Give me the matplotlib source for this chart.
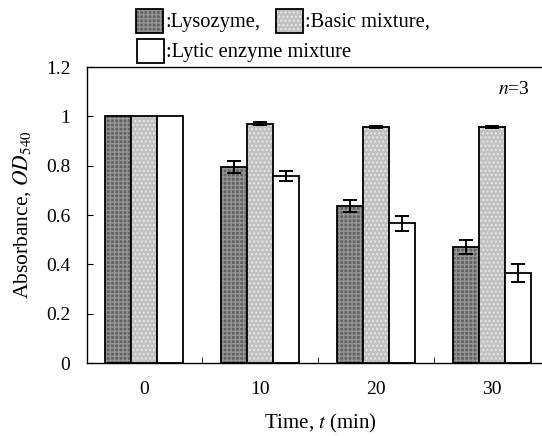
import numpy as np
import matplotlib
matplotlib.use('Agg')
import matplotlib.pyplot as plt
from matplotlib.patches import Rectangle

# データ
times = ['0', '10', '20', '30']
lysozyme = [1.0, 0.795, 0.638, 0.470]
lysozyme_err = [0.0, 0.024, 0.024, 0.027]
basic = [1.0, 0.970, 0.955, 0.955]
basic_err = [0.0, 0.006, 0.004, 0.004]
lytic = [1.0, 0.757, 0.566, 0.365]
lytic_err = [0.0, 0.020, 0.030, 0.038]

plt.rcParams['font.family'] = ['Liberation Serif', 'DejaVu Serif']
plt.rcParams['mathtext.fontset'] = 'stix'

W, H = 542, 436
fig = plt.figure(figsize=(W / 100, H / 100), dpi=100)
ax = fig.add_axes([87 / W, 73 / H, 0.86, 296 / H])

x = np.arange(len(times))
w = 0.224

series = [
    (lysozyme, lysozyme_err, -w, '#636363', '#959595', '++++'),
    (basic, basic_err, 0.0, '#c0c0c0', '#e8e8e8', '....'),
    (lytic, lytic_err, w, 'white', 'white', None),
]
for vals, err, off, fc, hc, hatch in series:
    # 塗り（テクスチャ）
    ax.bar(x + off, vals, w, color=fc, edgecolor=hc, hatch=hatch, linewidth=0)
    # 枠線
    ax.bar(x + off, vals, w, facecolor='none', edgecolor='black', linewidth=1.3)
    e = np.array(err)
    m = e > 0
    ax.errorbar((x + off)[m], np.array(vals)[m], yerr=e[m], fmt='none',
                ecolor='black', elinewidth=1.4, capsize=5, capthick=1.4)

ax.set_xlim(-0.49, 3.53)
ax.set_ylim(0, 1.2)
ax.set_yticks([0, 0.2, 0.4, 0.6, 0.8, 1.0, 1.2])
ax.set_yticklabels(['0', '0.2', '0.4', '0.6', '0.8', '1', '1.2'])
ax.set_xticks(x)
ax.set_xticklabels(times)
ax.set_xticks([0.5, 1.5, 2.5], minor=True)
ax.tick_params(axis='x', which='major', length=0, pad=13, labelsize=14)
ax.tick_params(axis='x', which='minor', direction='in', length=4)
ax.tick_params(axis='y', direction='in', length=4, pad=12, labelsize=14)
for s in ax.spines.values():
    s.set_linewidth(1.0)

ax.set_xlabel('Time, $t$ (min)', fontsize=15, labelpad=10)
ax.set_ylabel('Absorbance, $OD_{540}$', fontsize=15.5, labelpad=9)
fig.text(530 / W, 1 - 90 / H, '$n$=3', ha='right', va='center', fontsize=14)

# 凡例（手描き）
def swatch(x0, y0, fc, hc, hatch):
    r = Rectangle((x0 / W, 1 - (y0 + 24) / H), 27 / W, 24 / H, transform=fig.transFigure,
                  facecolor=fc, edgecolor=hc, hatch=hatch, linewidth=0)
    fig.add_artist(r)
    fig.add_artist(Rectangle((x0 / W, 1 - (y0 + 24) / H), 27 / W, 24 / H,
                             transform=fig.transFigure, facecolor='none',
                             edgecolor='black', linewidth=1.3))

swatch(136, 9, '#636363', '#959595', '++++')
fig.text(165 / W, 1 - 22 / H, ':Lysozyme,', fontsize=14.8, va='center')
swatch(276, 9, '#c0c0c0', '#e8e8e8', '....')
fig.text(305 / W, 1 - 22 / H, ':Basic mixture,', fontsize=14.8, va='center')
swatch(137, 39, 'white', 'white', None)
fig.text(166 / W, 1 - 52 / H, ':Lytic enzyme mixture', fontsize=14.8, va='center')

fig.savefig('out.png', dpi=100)
